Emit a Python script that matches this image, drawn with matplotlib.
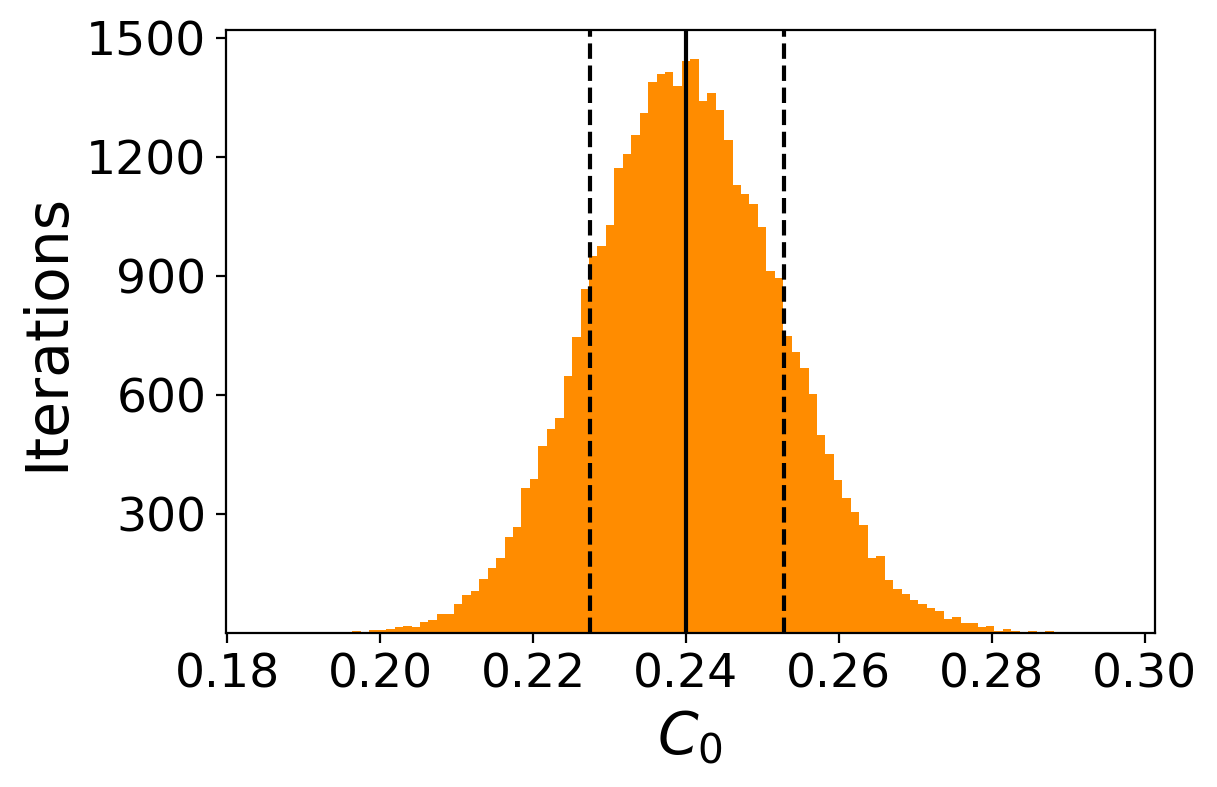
import matplotlib.pyplot as plt
import numpy as np

# Histogram of the C_0 chain: 100 bins between min and max sample
c0_min = 0.18532
c0_max = 0.29582
counts = [
    1, 0, 0, 0, 0, 0, 0, 0, 0, 0,
    5, 0, 8, 8, 10, 15, 18, 15, 28, 33,
    48, 48, 73, 96, 106, 135, 163, 190, 241, 268,
    366, 389, 472, 515, 542, 648, 746, 866, 949, 974,
    1027, 1171, 1208, 1256, 1311, 1389, 1409, 1414, 1379, 1442,
    1447, 1341, 1361, 1318, 1243, 1130, 1107, 1082, 1022, 912,
    894, 748, 708, 668, 602, 499, 452, 386, 339, 304,
    273, 190, 193, 133, 110, 97, 82, 72, 62, 55,
    35, 40, 25, 26, 15, 17, 5, 10, 5, 0,
    5, 0, 5, 0, 0, 0, 0, 0, 0, 1,
]

# median and 68% interval
c0_median = 0.24003
c0_low = 0.22744
c0_high = 0.25282

xticks = [0.18, 0.20, 0.22, 0.24, 0.26, 0.28, 0.30]
yticks = [300, 600, 900, 1200, 1500]


def plot_histogram(output_path: str):
    fig = plt.figure(figsize=(6.085, 3.935), dpi=200)
    ax = fig.add_axes([0.1855, 0.1957, 0.949 - 0.1855, 0.9619 - 0.1957])

    edges = np.linspace(c0_min, c0_max, len(counts) + 1)
    ax.hist(edges[:-1], bins=edges, weights=counts, color="darkorange")

    ax.axvline(c0_median, color="black", lw=1.5)
    ax.axvline(c0_low, color="black", lw=1.5, ls="--")
    ax.axvline(c0_high, color="black", lw=1.5, ls="--")

    ax.set_xticks(xticks)
    ax.set_xticklabels([f"{t:.2f}" for t in xticks])
    ax.set_yticks(yticks)
    ax.tick_params(labelsize=17)

    ax.set_xlabel("$C_0$", fontsize=21)
    ax.set_ylabel("Iterations", fontsize=21)

    fig.savefig(output_path, dpi=200)
    plt.close(fig)


if __name__ == "__main__":
    plot_histogram("out.png")
